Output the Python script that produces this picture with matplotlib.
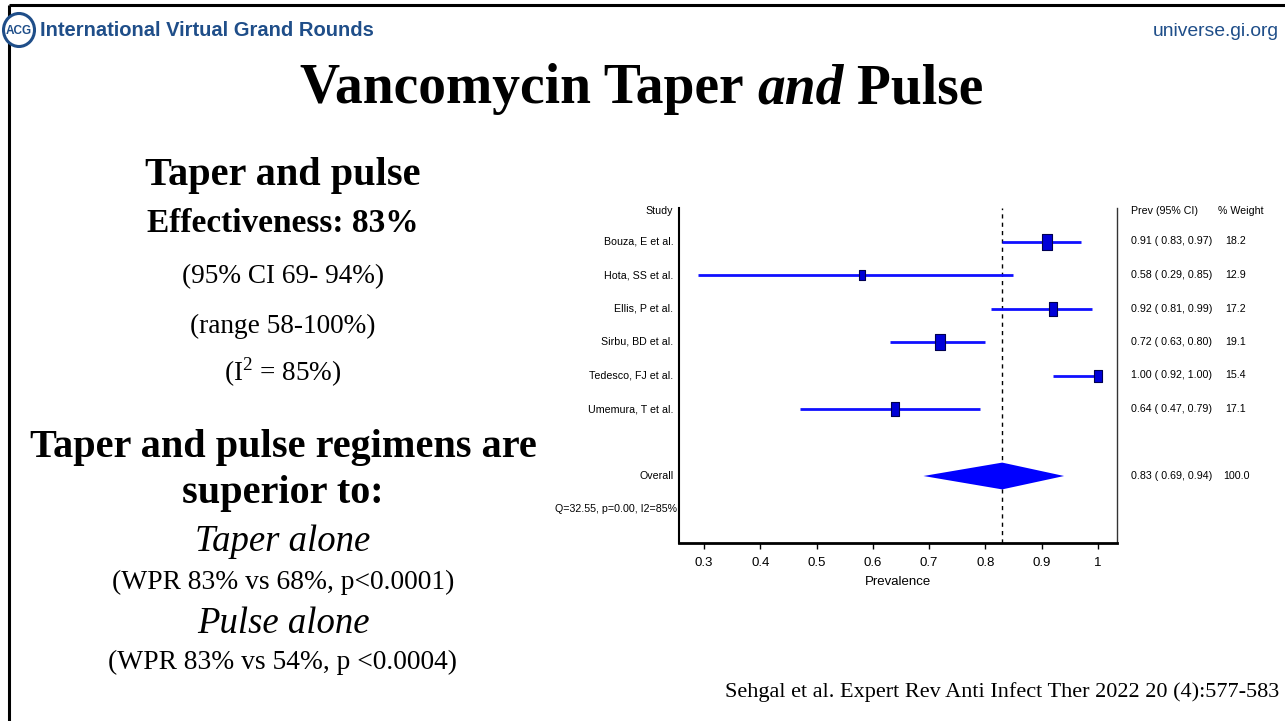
import matplotlib
matplotlib.use("Agg")
import matplotlib.pyplot as plt
from matplotlib.transforms import blended_transform_factory
from matplotlib.patches import Ellipse
import numpy as np

# ---------------- data ----------------
studies = ["Bouza, E et al.", "Hota, SS et al.", "Ellis, P et al.",
           "Sirbu, BD et al.", "Tedesco, FJ et al.", "Umemura, T et al."]
prev = [0.91, 0.58, 0.92, 0.72, 1.00, 0.64]
ci_lo = [0.83, 0.29, 0.81, 0.63, 0.92, 0.47]
ci_hi = [0.97, 0.85, 0.99, 0.80, 1.00, 0.79]
weights = [18.2, 12.9, 17.2, 19.1, 15.4, 17.1]
overall_label = "Overall"
overall_prev = 0.83
overall_lo = 0.69
overall_hi = 0.94
overall_weight = 100.0
het_text = "Q=32.55, p=0.00, I2=85%"
xticks = [0.3, 0.4, 0.5, 0.6, 0.7, 0.8, 0.9, 1.0]
xticklabels = ["0.3", "0.4", "0.5", "0.6", "0.7", "0.8", "0.9", "1"]

W, H = 1285, 721
fig = plt.figure(figsize=(W / 100, H / 100), dpi=100)
fig.patch.set_facecolor("white")

NARROW = ["Liberation Sans Narrow", "Liberation Sans", "DejaVu Sans"]
SERIF = ["Liberation Serif", "DejaVu Serif"]
SANS = ["Liberation Sans", "DejaVu Sans"]
FS_T = 7.7

# ---------------- forest plot axes ----------------
ax = fig.add_axes([679 / W, 1 - 543 / H, (1117 - 679) / W, (543 - 208) / H])
ax.set_xlim(0.2556, 1.034)
ax.set_ylim(10, 0)
ax.spines["top"].set_visible(False)
ax.spines["bottom"].set_linewidth(2.0)
ax.spines["left"].set_linewidth(1.5)
ax.spines["right"].set_linewidth(1.0)
ax.spines["right"].set_color("#333333")
ax.set_yticks([])
ax.set_xticks(xticks)
ax.set_xticklabels(xticklabels, family=NARROW, fontsize=9.5)
ax.tick_params(axis="x", direction="out", length=4, width=1, pad=6)
ax.set_xlabel("Prevalence", family=NARROW, fontsize=9.5, labelpad=5)

rows = np.arange(1, len(studies) + 1)
ov_row = len(studies) + 2
het_row = ov_row + 1

ax.axvline(overall_prev, color="black", lw=1.0, ls=(0, (3, 3)), zorder=1)

rect_marker = [(-0.3, -0.5), (0.3, -0.5), (0.3, 0.5), (-0.3, 0.5), (-0.3, -0.5)]
for r, p, l, h, w in zip(rows, prev, ci_lo, ci_hi, weights):
    ax.plot([l, h], [r, r], color="#1010ff", lw=2.0, solid_capstyle="butt", zorder=2)
    ax.plot([p], [r], marker=rect_marker, markersize=w * 0.6,
            markerfacecolor="#0000d8", markeredgecolor="#000050",
            markeredgewidth=0.8, linestyle="none", zorder=3)

dh = 0.4
ax.fill([overall_lo, overall_prev, overall_hi, overall_prev],
        [ov_row, ov_row - dh, ov_row, ov_row + dh],
        color="#0000ff", lw=0, zorder=3)

lab_tr = blended_transform_factory(ax.transAxes, ax.transData)
ax.text(-0.013, 0.1, "Study", transform=lab_tr, ha="right", va="center",
        family=NARROW, fontsize=FS_T)
for r, s in zip(rows, studies):
    ax.text(-0.013, r, s, transform=lab_tr, ha="right", va="center",
            family=NARROW, fontsize=FS_T)
ax.text(-0.013, ov_row, overall_label, transform=lab_tr, ha="right", va="center",
        family=NARROW, fontsize=FS_T)
ax.text(-0.005, het_row, het_text, transform=lab_tr, ha="right", va="center",
        family=NARROW, fontsize=FS_T)

tab_tr = blended_transform_factory(fig.transFigure, ax.transData)
x_prev = 1131 / W
x_w = 1223 / W
ax.text(x_prev, 0.1, "Prev (95% CI)", transform=tab_tr, ha="left", va="center",
        family=NARROW, fontsize=FS_T, clip_on=False)
ax.text(1218 / W, 0.1, "% Weight", transform=tab_tr, ha="left", va="center",
        family=NARROW, fontsize=FS_T, clip_on=False)
for r, p, l, h, w in zip(rows, prev, ci_lo, ci_hi, weights):
    ax.text(x_prev, r, f"{p:.2f} ( {l:.2f}, {h:.2f})", transform=tab_tr,
            ha="left", va="center", family=NARROW, fontsize=FS_T, clip_on=False)
    ax.text(x_w + 2 / W, r, f"{w:.1f}", transform=tab_tr, ha="left", va="center",
            family=NARROW, fontsize=FS_T, clip_on=False)
ax.text(x_prev, ov_row, f"{overall_prev:.2f} ( {overall_lo:.2f}, {overall_hi:.2f})",
        transform=tab_tr, ha="left", va="center", family=NARROW, fontsize=FS_T, clip_on=False)
ax.text(x_w, ov_row, f"{overall_weight:.1f}", transform=tab_tr, ha="left",
        va="center", family=NARROW, fontsize=FS_T, clip_on=False)

# ---------------- slide overlay (pixel coordinates) ----------------
ov = fig.add_axes([0, 0, 1, 1], zorder=-1)
ov.set_xlim(0, W)
ov.set_ylim(H, 0)
ov.axis("off")

# border lines
ov.plot([9, W], [5, 5], color="black", lw=2.2, solid_capstyle="butt")
ov.plot([9, 9], [5, H], color="black", lw=2.2, solid_capstyle="butt")

# logo
blue = "#1f4e89"
ov.add_patch(Ellipse((19, 30), 31, 33, facecolor="white", edgecolor=blue, lw=2.2, zorder=5))
ov.text(19, 31, "ACG", ha="center", va="center", family=SANS, fontsize=8.5,
        fontweight="bold", color=blue, zorder=6)

ov.text(40, 31, "International Virtual Grand Rounds", ha="left", va="center",
        family=SANS, fontsize=14.5, fontweight="bold", color=blue)
ov.text(1279, 31, "universe.gi.org", ha="right", va="center",
        family=SANS, fontsize=13.9, color=blue)

# title with mixed styles
fig.canvas.draw()
renderer = fig.canvas.get_renderer()
parts = [("Vancomycin Taper ", "normal"), ("and", "italic"), (" Pulse", "normal")]
tmp = []
for txt, st in parts:
    t = ov.text(0, 89, txt, ha="left", va="center", family=SERIF, fontsize=40,
                fontweight="bold", fontstyle=st)
    tmp.append(t)
widths = [t.get_window_extent(renderer).width for t in tmp]
total = sum(widths)
x = 642 - total / 2
for t, w in zip(tmp, widths):
    t.set_x(x)
    x += w

# left column text
plt.rcParams["mathtext.fontset"] = "custom"
plt.rcParams["mathtext.rm"] = "Liberation Serif"
cx = 283
left_lines = [
    (176, "Taper and pulse", 29, "bold", "normal"),
    (224, "Effectiveness: 83%", 24, "bold", "normal"),
    (277, "(95% CI 69- 94%)", 19.6, "normal", "normal"),
    (326, "(range 58-100%)", 19.6, "normal", "normal"),
    (372, "(I$^2$ = 85%)", 19.6, "normal", "normal"),
    (448, "Taper and pulse regimens are", 29, "bold", "normal"),
    (494, "superior to:", 29, "bold", "normal"),
    (542, "Taper alone", 26.5, "normal", "italic"),
    (582, "(WPR 83% vs 68%, p<0.0001)", 19.8, "normal", "normal"),
    (624, "Pulse alone", 26.5, "normal", "italic"),
    (662, "(WPR 83% vs 54%, p <0.0004)", 19.8, "normal", "normal"),
]
for y, txt, fs, fw, st in left_lines:
    ov.text(cx, y, txt, ha="center", va="center", family=SERIF, fontsize=fs,
            fontweight=fw, fontstyle=st)

ov.text(1279, 692, "Sehgal et al. Expert Rev Anti Infect Ther 2022 20 (4):577-583",
        ha="right", va="center", family=SERIF, fontsize=16)

fig.savefig("out.png", dpi=100, facecolor="white")
